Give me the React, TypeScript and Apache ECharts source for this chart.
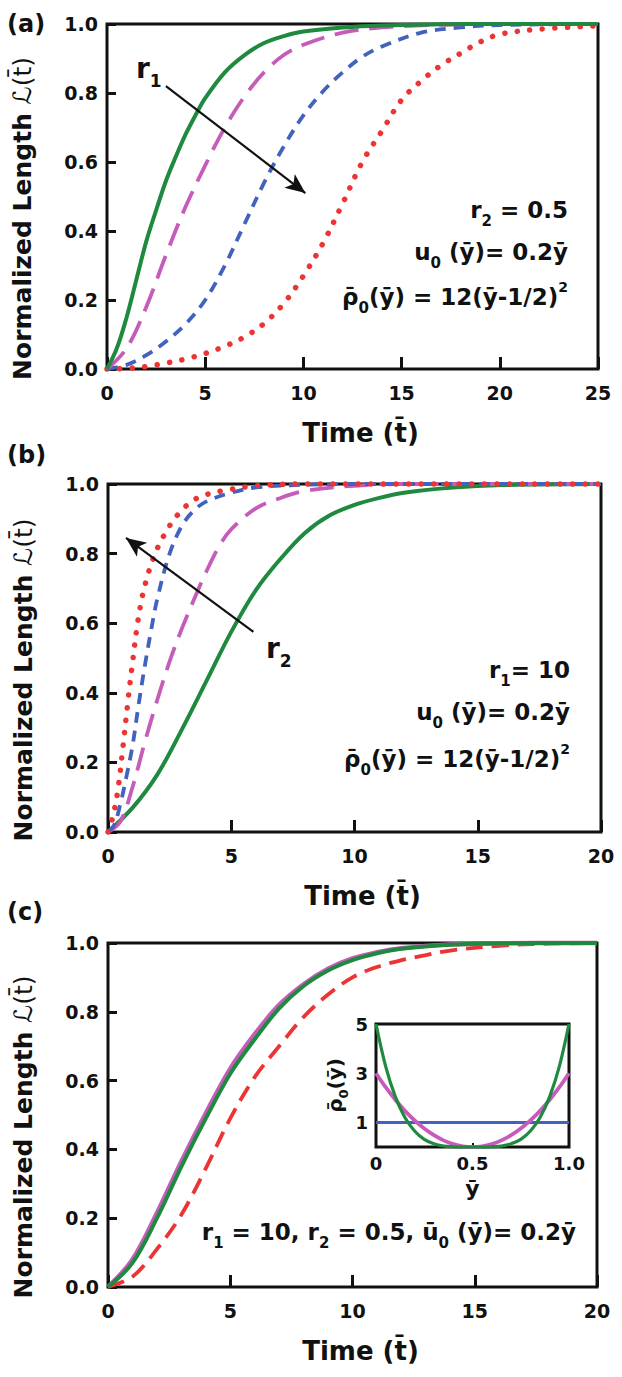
import React, { useEffect, useRef } from "react";
import * as echarts from "echarts";

// ---------- data ----------
// Panel (a): r2 = 0.5, varying r1
const aGreenT = [0, 0.5, 1, 1.5, 2, 2.5, 3, 3.5, 4, 4.5, 5, 6, 7, 8, 9, 10, 12, 14, 17, 20, 25];
const aGreenL = [0, 0.06, 0.15, 0.26, 0.37, 0.46, 0.545, 0.615, 0.68, 0.735, 0.785, 0.86, 0.91, 0.945, 0.965, 0.978, 0.99, 0.996, 0.999, 1, 1];
const aMagentaT = [0, 1, 2, 3, 4, 5, 6, 7, 8, 9, 10, 12, 14, 16, 18, 20, 25];
const aMagentaL = [0, 0.06, 0.18, 0.33, 0.47, 0.59, 0.7, 0.79, 0.86, 0.91, 0.94, 0.975, 0.99, 0.996, 0.999, 1, 1];
const aBlueT = [0, 1, 2, 3, 4, 5, 6, 7, 8, 9, 10, 11, 12, 13, 14, 16, 18, 20, 25];
const aBlueL = [0, 0.012, 0.04, 0.08, 0.13, 0.2, 0.3, 0.42, 0.54, 0.645, 0.735, 0.805, 0.86, 0.905, 0.935, 0.975, 0.99, 0.997, 1];
const aRedT = [0, 1, 2, 3, 4, 5, 6, 7, 8, 9, 10, 11, 12, 13, 14, 15, 16, 17, 18, 19, 20, 22, 25];
const aRedL = [0, 0.002, 0.007, 0.017, 0.029, 0.045, 0.066, 0.093, 0.132, 0.19, 0.27, 0.365, 0.48, 0.6, 0.69, 0.78, 0.835, 0.88, 0.915, 0.948, 0.97, 0.985, 0.995];
const arrowA = [[3.0, 0.82], [10.1, 0.51]];

// Panel (b): r1 = 10, varying r2
const bGreenT = [0, 1, 2, 3, 4, 5, 6, 7, 8, 9, 10, 11, 12, 14, 16, 20];
const bGreenL = [0, 0.07, 0.165, 0.295, 0.435, 0.575, 0.695, 0.785, 0.86, 0.91, 0.94, 0.96, 0.975, 0.99, 0.997, 1];
const bMagentaT = [0, 0.5, 1, 1.5, 2, 2.5, 3, 3.5, 4, 4.5, 5, 6, 7, 8, 10, 12, 20];
const bMagentaL = [0, 0.03, 0.13, 0.26, 0.38, 0.49, 0.585, 0.67, 0.75, 0.82, 0.87, 0.93, 0.96, 0.98, 0.995, 1, 1];
const bBlueT = [0, 0.25, 0.5, 0.75, 1, 1.25, 1.5, 1.75, 2, 2.5, 3, 3.5, 4, 5, 6, 8, 10, 20];
const bBlueL = [0, 0.02, 0.08, 0.16, 0.25, 0.37, 0.48, 0.58, 0.67, 0.8, 0.88, 0.925, 0.95, 0.975, 0.99, 0.998, 1, 1];
const bRedT = [0, 0.2, 0.4, 0.6, 0.8, 1, 1.2, 1.4, 1.6, 1.8, 2, 2.5, 3, 3.5, 4, 5, 6, 8, 20];
const bRedL = [0, 0.045, 0.12, 0.24, 0.37, 0.49, 0.6, 0.68, 0.735, 0.78, 0.815, 0.88, 0.925, 0.955, 0.97, 0.985, 0.995, 1, 1];
const arrowB = [[5.9, 0.575], [0.73, 0.845]];

// Panel (c): r1 = 10, r2 = 0.5, different initial density profiles
const cT = [0, 1, 2, 3, 4, 5, 6, 7, 8, 9, 10, 11, 12, 14, 16, 20];
const cGreenL = [0, 0.07, 0.2, 0.35, 0.49, 0.62, 0.72, 0.81, 0.875, 0.92, 0.95, 0.97, 0.983, 0.995, 0.999, 1];
const cMagentaL = [0, 0.08, 0.215, 0.365, 0.505, 0.635, 0.735, 0.82, 0.88, 0.925, 0.955, 0.973, 0.985, 0.996, 0.999, 1];
const cRedT = [0, 1, 2, 3, 4, 5, 6, 7, 8, 9, 10, 11, 12, 13, 14, 16, 18, 20];
const cRedL = [0, 0.03, 0.11, 0.21, 0.345, 0.49, 0.61, 0.7, 0.785, 0.85, 0.9, 0.93, 0.95, 0.965, 0.978, 0.992, 0.998, 1];

// Inset of (c): rho0(y)
const insetY = [0, 0.05, 0.1, 0.15, 0.2, 0.25, 0.3, 0.35, 0.4, 0.45, 0.5, 0.55, 0.6, 0.65, 0.7, 0.75, 0.8, 0.85, 0.9, 0.95, 1];
const insetBlue = [1, 1, 1, 1, 1, 1, 1, 1, 1, 1, 1, 1, 1, 1, 1, 1, 1, 1, 1, 1, 1];
const insetMagenta = [3, 2.43, 1.92, 1.47, 1.08, 0.75, 0.48, 0.27, 0.12, 0.03, 0, 0.03, 0.12, 0.27, 0.48, 0.75, 1.08, 1.47, 1.92, 2.43, 3];
const insetGreen = [5, 3.28, 2.05, 1.2, 0.65, 0.31, 0.13, 0.04, 0.01, 0, 0, 0, 0.01, 0.04, 0.13, 0.31, 0.65, 1.2, 2.05, 3.28, 5];

// ---------- styles ----------
const FONT = '"DejaVu Sans", Verdana, sans-serif';
const INK = "#111111";
const GREEN = "#1f8a3f";
const MAGENTA = "#c65cba";
const BLUE = "#4262bf";
const RED = "#ec3434";

const zip = (xs: number[], ys: number[]) => xs.map((x, i) => [x, ys[i]]);

function mainX(gi: number, max: number) {
  return {
    type: "value",
    gridIndex: gi,
    min: 0,
    max,
    interval: 5,
    axisLine: { show: false },
    axisTick: { show: true, inside: true, length: 12, lineStyle: { color: INK, width: 3 } },
    splitLine: { show: false },
    axisLabel: { margin: 14, color: INK, fontFamily: FONT, fontWeight: "bold", fontSize: 19 },
    name: "Time (t\u0304)",
    nameLocation: "middle",
    nameGap: 51,
    nameTextStyle: { fontFamily: FONT, fontWeight: "bold", fontSize: 26, color: INK, padding: [0, 0, 0, 16] },
  };
}

function mainY(gi: number) {
  return {
    type: "value",
    gridIndex: gi,
    min: 0,
    max: 1,
    interval: 0.2,
    axisLine: { show: false },
    axisTick: { show: true, inside: true, length: 9, lineStyle: { color: INK, width: 3 } },
    splitLine: { show: false },
    axisLabel: {
      margin: 9,
      color: INK,
      fontFamily: FONT,
      fontWeight: "bold",
      fontSize: 19,
      formatter: (v: number) => v.toFixed(1),
    },
    name: "{b|Normalized Length }{s|\u2112}{n|(t\u0304)}",
    nameLocation: "middle",
    nameRotate: 90,
    nameGap: 72,
    nameTextStyle: {
      color: INK,
      padding: [0, 44, 0, 0],
      rich: {
        b: { fontFamily: FONT, fontWeight: "bold", fontSize: 25, color: INK },
        s: { fontFamily: FONT, fontStyle: "italic", fontWeight: "normal", fontSize: 25, color: INK },
        n: { fontFamily: FONT, fontWeight: "normal", fontSize: 25, color: INK },
      },
    },
  };
}

function line(xs: number[], ys: number[], gi: number, color: string, width: number, type: any, cap = "butt", extra: any = {}) {
  return {
    type: "line",
    xAxisIndex: gi,
    yAxisIndex: gi,
    data: zip(xs, ys),
    showSymbol: false,
    symbol: "none",
    smooth: 0.35,
    clip: false,
    silent: true,
    lineStyle: { color, width, type, cap },
    ...extra,
  };
}

function arrowMark(pts: number[][]) {
  return {
    markLine: {
      silent: true,
      symbol: ["none", "arrow"],
      symbolSize: [13, 20],
      label: { show: false },
      lineStyle: { color: INK, width: 2.2, type: "solid" },
      data: [[{ coord: pts[0] }, { coord: pts[1] }]],
    },
  };
}

const annRich = {
  m: { fontFamily: FONT, fontWeight: "bold", fontSize: 23, lineHeight: 32, fill: INK },
  s: { fontFamily: FONT, fontWeight: "bold", fontSize: 15, lineHeight: 32, padding: [22, 0, 0, 0], fill: INK },
  p: { fontFamily: FONT, fontWeight: "bold", fontSize: 14, lineHeight: 32, padding: [0, 0, 20, 0], fill: INK },
  M: { fontFamily: FONT, fontWeight: "bold", fontSize: 28, lineHeight: 36, fill: INK },
  S: { fontFamily: FONT, fontWeight: "bold", fontSize: 17, lineHeight: 36, padding: [26, 0, 0, 0], fill: INK },
};

function ann(x: number, y: number, text: string, align = "right") {
  return {
    type: "text",
    x,
    y,
    silent: true,
    style: { text, rich: annRich, align, verticalAlign: "middle", fill: INK, font: `bold 23px ${FONT}` },
  };
}

function panelLabel(y: number, t: string) {
  return {
    type: "text",
    x: 7,
    y,
    silent: true,
    style: { text: t, fill: INK, font: `bold 24px ${FONT}`, verticalAlign: "middle", align: "left" },
  };
}

export default function App() {
  const ref = useRef<HTMLDivElement>(null);
  useEffect(() => {
    if (!ref.current) return;
    const chart = echarts.init(ref.current, null, { renderer: "svg", width: 622, height: 1377 });
    const gridBase = { show: true, borderColor: INK, borderWidth: 3, backgroundColor: "transparent", containLabel: false };
    const option: any = {
      animation: false,
      backgroundColor: "#ffffff",
      grid: [
        { ...gridBase, left: 107, top: 24, width: 491, height: 345 },
        { ...gridBase, left: 108, top: 484, width: 493, height: 348 },
        { ...gridBase, left: 108, top: 943, width: 489, height: 344 },
        { ...gridBase, left: 376, top: 1024, width: 193, height: 123, backgroundColor: "#ffffff" },
      ],
      xAxis: [
        mainX(0, 25),
        mainX(1, 20),
        mainX(2, 20),
        {
          type: "value",
          gridIndex: 3,
          min: 0,
          max: 1,
          interval: 0.5,
          axisLine: { show: false },
          axisTick: { show: true, inside: true, length: 4, lineStyle: { color: INK, width: 2 } },
          splitLine: { show: false },
          axisLabel: {
            margin: 7,
            color: INK,
            fontFamily: FONT,
            fontWeight: "bold",
            fontSize: 18,
            formatter: (v: number) => (v === 0 ? "0" : v.toFixed(1)),
          },
          name: "\u0233",
          nameLocation: "middle",
          nameGap: 30,
          nameTextStyle: { fontFamily: FONT, fontWeight: "bold", fontSize: 22, color: INK },
        },
      ],
      yAxis: [
        mainY(0),
        mainY(1),
        mainY(2),
        {
          type: "value",
          gridIndex: 3,
          min: 0,
          max: 5,
          interval: 1,
          axisLine: { show: false },
          axisTick: { show: false },
          splitLine: { show: false },
          axisLabel: {
            margin: 8,
            color: INK,
            fontFamily: FONT,
            fontWeight: "bold",
            fontSize: 18,
            formatter: (v: number) => (v % 2 === 1 ? String(v) : ""),
          },
          name: "{a|\u03C1\u0304}{s|0}{a|(\u0233)}",
          nameLocation: "middle",
          nameRotate: 90,
          nameGap: 28,
          nameTextStyle: {
            color: INK,
            rich: {
              a: { fontFamily: FONT, fontWeight: "bold", fontSize: 20, lineHeight: 26, color: INK },
              s: { fontFamily: FONT, fontWeight: "bold", fontSize: 13, lineHeight: 26, padding: [16, 0, 0, 0], color: INK },
            },
          },
        },
      ],
      series: [
        // (a)
        line(aRedT, aRedL, 0, RED, 5.5, [0.1, 12.5], "round"),
        line(aBlueT, aBlueL, 0, BLUE, 3.8, [11, 8]),
        line(aMagentaT, aMagentaL, 0, MAGENTA, 3.8, [24, 11]),
        line(aGreenT, aGreenL, 0, GREEN, 4, "solid", "butt", arrowMark(arrowA)),
        // (b)
        line(bGreenT, bGreenL, 1, GREEN, 4, "solid", "butt", arrowMark(arrowB)),
        line(bMagentaT, bMagentaL, 1, MAGENTA, 3.8, [24, 11]),
        line(bBlueT, bBlueL, 1, BLUE, 3.8, [11, 8]),
        line(bRedT, bRedL, 1, RED, 5.5, [0.1, 12.5], "round"),
        // (c)
        line(cRedT, cRedL, 2, RED, 3.8, [17, 9]),
        line(cT, cMagentaL, 2, MAGENTA, 4.5),
        line(cT, cGreenL, 2, GREEN, 4),
        // inset
        line(insetY, insetBlue, 3, BLUE, 3),
        line(insetY, insetMagenta, 3, MAGENTA, 3.8),
        line(insetY, insetGreen, 3, GREEN, 3.2),
      ],
      graphic: [
        panelLabel(24, "(a)"),
        panelLabel(455, "(b)"),
        panelLabel(912, "(c)"),
        ann(568, 210, "{m|r}{s|2}{m| = 0.5}"),
        ann(568, 252, "{m|u}{s|0}{m| (\u0233)= 0.2\u0233}"),
        ann(568, 297, "{m|\u03C1\u0304}{s|0}{m|(\u0233) = 12(\u0233-1/2)}{p|2}"),
        ann(570, 670, "{m|r}{s|1}{m|= 10}"),
        ann(570, 712, "{m|u}{s|0}{m| (\u0233)= 0.2\u0233}"),
        ann(570, 759, "{m|\u03C1\u0304}{s|0}{m|(\u0233) = 12(\u0233-1/2)}{p|2}"),
        ann(576, 1232, "{m|r}{s|1}{m| = 10, r}{s|2}{m| = 0.5, \u016B}{s|0}{m| (\u0233)= 0.2\u0233}"),
        ann(136, 68, "{M|r}{S|1}", "left"),
        ann(266, 648, "{M|r}{S|2}", "left"),
      ],
    };
    chart.setOption(option);
    return () => chart.dispose();
  }, []);
  return (
    <div
      ref={ref}
      style={{ position: "absolute", left: 0, top: 0, width: 622, height: 1377, background: "#fff" }}
    />
  );
}
